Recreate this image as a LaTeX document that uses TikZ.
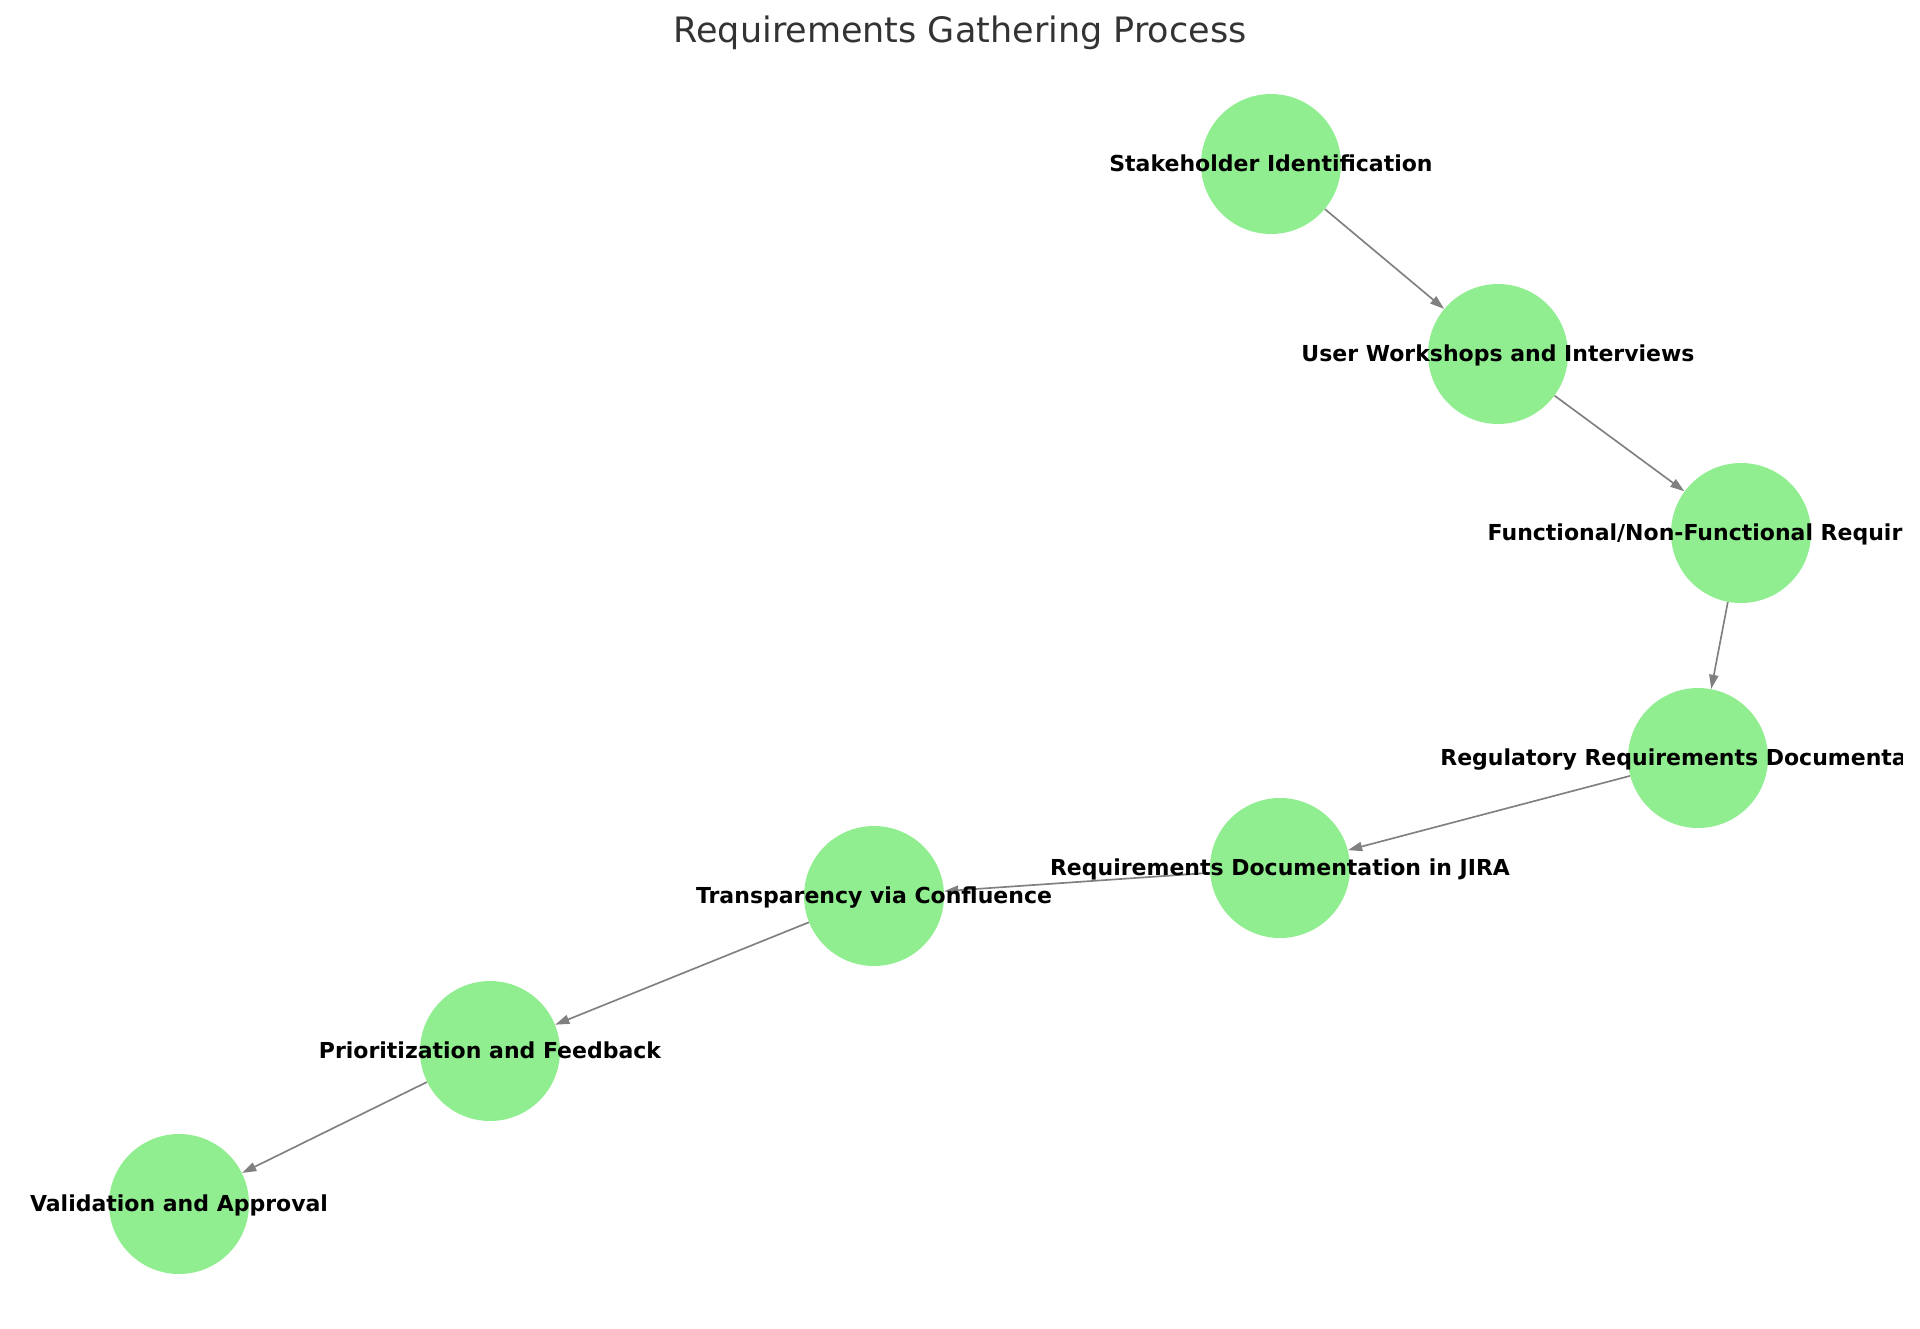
\documentclass[tikz,border=0pt]{standalone}
\usepackage{fontspec}
\setmainfont{DejaVu Sans}
\usepackage{xcolor}
\usepackage{tikz}
\usetikzlibrary{arrows.meta}
\definecolor{nodegreen}{HTML}{90EE90}
\definecolor{titlegray}{HTML}{333333}

\begin{document}
\begin{tikzpicture}[x=0.6pt, y=-0.6pt,
  vertex/.style={circle, fill=nodegreen, minimum size=84pt, inner sep=0pt},
  nodetext/.style={font=\fontsize{13.2}{15}\selectfont\bfseries, inner sep=0pt,
    text height=1.0em, text depth=0.13em},
  flow/.style={draw=gray, line width=1pt, -{Triangle[length=8.5pt, width=5.5pt]}}]

\useasboundingbox (0,0) rectangle (1920,1329);
\clip (0,0) rectangle (1902,1329);

\node[font=\fontsize{21}{24}\selectfont, text=titlegray, anchor=base] (title) at (960,42) {Requirements Gathering Process};

\node[vertex] (1) at (1271,164) {};
\node[vertex] (2) at (1498,354) {};
\node[vertex] (3) at (1741,533) {};
\node[vertex] (4) at (1698,758) {};
\node[vertex] (5) at (1280,868) {};
\node[vertex] (6) at (874,896) {};
\node[vertex] (7) at (490,1051) {};
\node[vertex] (8) at (179,1204) {};

\path[flow] (1) -- (2);
\path[flow] (2) -- (3);
\path[flow] (3) -- (4);
\path[flow] (4) -- (5);
\path[flow] (5) -- (6);
\path[flow] (6) -- (7);
\path[flow] (7) -- (8);

\node[nodetext] (l1) at (1) {Stakeholder Identification};
\node[nodetext] (l2) at (2) {User Workshops and Interviews};
\node[nodetext] (l3) at (3) {Functional/Non-Functional Requirements};
\node[nodetext] (l4) at (4) {Regulatory Requirements Documentation};
\node[nodetext] (l5) at (5) {Requirements Documentation in JIRA};
\node[nodetext] (l6) at (6) {Transparency via Confluence};
\node[nodetext] (l7) at (7) {Prioritization and Feedback};
\node[nodetext] (l8) at (8) {Validation and Approval};

\end{tikzpicture}
\end{document}
